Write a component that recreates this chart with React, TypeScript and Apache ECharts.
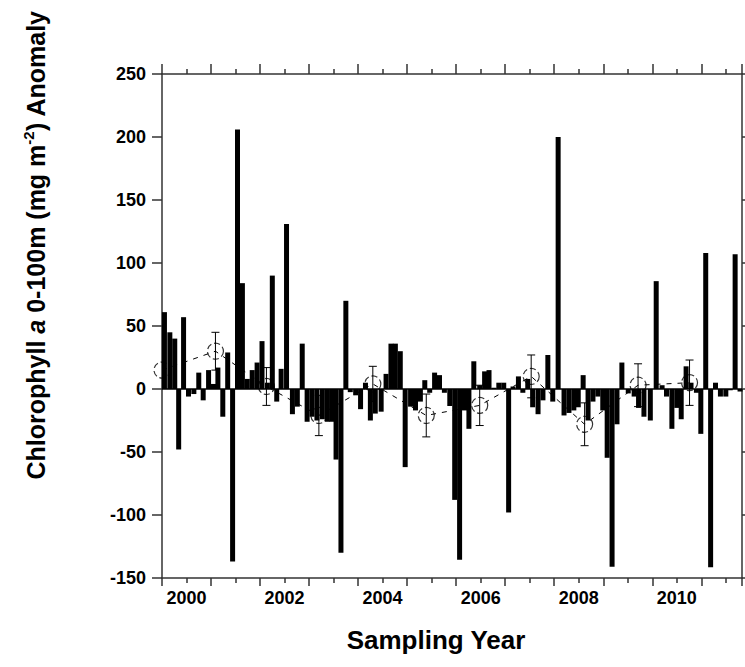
import React, { useEffect, useRef } from "react";
import * as echarts from "echarts";

// Monthly cruise anomalies (decimal year, mg m-2)
const barDates = [
  2000.05, 2000.16, 2000.26, 2000.34, 2000.44, 2000.54, 2000.65, 2000.75, 2000.84, 2000.95,
  2001.05, 2001.14, 2001.24, 2001.34, 2001.44, 2001.54, 2001.64, 2001.74, 2001.84, 2001.94,
  2002.04, 2002.15, 2002.25, 2002.34, 2002.43, 2002.54, 2002.66, 2002.76, 2002.86, 2002.96,
  2003.06, 2003.16, 2003.27, 2003.37, 2003.46, 2003.55, 2003.65, 2003.75, 2003.84, 2003.95,
  2004.05, 2004.15, 2004.25, 2004.35, 2004.47, 2004.57, 2004.67, 2004.76, 2004.86, 2004.96,
  2005.07, 2005.17, 2005.27, 2005.36, 2005.46, 2005.56, 2005.66, 2005.76, 2005.87, 2005.97,
  2006.07, 2006.17, 2006.26, 2006.36, 2006.48, 2006.58, 2006.67, 2006.77, 2006.87, 2006.97,
  2007.07, 2007.16, 2007.27, 2007.36, 2007.46, 2007.56, 2007.67, 2007.77, 2007.87, 2007.97,
  2008.08, 2008.2, 2008.3, 2008.4, 2008.49, 2008.59, 2008.69, 2008.79, 2008.89, 2008.99,
  2009.08, 2009.18, 2009.28, 2009.38, 2009.51, 2009.63, 2009.72, 2009.83, 2009.96, 2010.08,
  2010.2, 2010.29, 2010.4, 2010.5, 2010.59, 2010.69, 2010.79, 2010.9, 2010.99, 2011.09,
  2011.19, 2011.29, 2011.39, 2011.5, 2011.59, 2011.69, 2011.79,
];
const barValues = [
  61, 45, 40, -48, 57, -6, -4, 13, -9, 15,
  4, 17, -22, 29, -137, 206, 84, 8, 15, 21,
  38, 5, 90, -10, 16, 131, -20, -14, 36, -26,
  -22, -25, -24, -26, -26, -56, -130, 70, -2.5, -5,
  -16, 5, -25, -19.5, -18, 12, 36, 36, 30, -62,
  -14, -17, -10, 7, -3, 13, 11, -3, -13.5, -88,
  -135.6, -17, -31.6, 22, 3, 14, 15, 1, 5, 5,
  -98, 2, 10, -3, 8, -14.5, -20, -9, 27, -10,
  200, -21, -19, -17, -14.5, 11, -25, -10, -6, -17,
  -54.6, -141, -28, 21, -3.5, -6, -15, -22, -25, 85.6,
  3, -6, -31.6, -15, -24, 18, 5, -3, -35.6, 108,
  -141.5, 5, -6, -6, -1, 107, -2,
];

// Annual means with error bars
const meanDates = [2000.0, 2001.09, 2002.13, 2003.2, 2004.3, 2005.39, 2006.48, 2007.53, 2008.62, 2009.71, 2010.76];
const meanValues = [15, 30, 2, -21, 4, -21, -13, 10, -28, 3, 5];
const meanErrors = [0, 15, 15, 16, 14, 17, 16, 17, 17, 17, 18];

const yearLabels = [2000, 2002, 2004, 2006, 2008, 2010];
const yMin = -150;
const yMax = 250;
const yStep = 50;
const xMin = 2000;
const xMax = 2011.83;

const FONT = "'Liberation Sans', Arial, Helvetica, sans-serif";
const AXIS_COLOR = "#333";

export default function App() {
  const ref = useRef<HTMLDivElement>(null);

  useEffect(() => {
    if (!ref.current) return;
    const chart = echarts.init(ref.current, undefined, { renderer: "svg" });

    const barData = barDates.map((d, i) => [d, barValues[i]]);
    const meanData = meanDates.map((d, i) => [d, meanValues[i]]);
    const errData = meanDates
      .map((d, i) => [d, meanValues[i], meanErrors[i]])
      .filter((r) => r[2] > 0);

    const axisLineStyle = { color: AXIS_COLOR, width: 1.5 };

    const option: any = {
      animation: false,
      backgroundColor: "#fff",
      grid: { left: 162, top: 74, width: 581, height: 504, containLabel: false },
      xAxis: [
        {
          type: "value",
          position: "bottom",
          min: xMin,
          max: xMax,
          interval: 1,
          axisLine: { show: true, onZero: false, lineStyle: axisLineStyle },
          axisTick: { show: true, inside: false, length: 8, lineStyle: axisLineStyle },
          minorTick: { show: true, splitNumber: 2, length: 5, lineStyle: axisLineStyle },
          splitLine: { show: false },
          minorSplitLine: { show: false },
          axisLabel: {
            margin: 11,
            color: "#000",
            fontFamily: FONT,
            fontSize: 18,
            fontWeight: "bold",
            formatter: (v: number) =>
              yearLabels.indexOf(Math.round(v)) >= 0 && Math.abs(v - Math.round(v)) < 1e-6
                ? `{a|${Math.round(v)}}`
                : "",
            rich: {
              a: {
                padding: [0, 0, 0, 49],
                fontFamily: FONT,
                fontSize: 18,
                fontWeight: "bold",
                color: "#000",
              },
            },
          },
        },
        {
          type: "value",
          position: "top",
          min: xMin,
          max: xMax,
          interval: 1,
          axisLine: { show: true, onZero: false, lineStyle: axisLineStyle },
          axisTick: { show: true, inside: false, length: 10, lineStyle: axisLineStyle },
          minorTick: { show: true, splitNumber: 2, length: 5, lineStyle: axisLineStyle },
          splitLine: { show: false },
          axisLabel: { show: false },
        },
      ],
      yAxis: [
        {
          type: "value",
          position: "left",
          min: yMin,
          max: yMax,
          interval: yStep,
          axisLine: { show: true, onZero: false, lineStyle: axisLineStyle },
          axisTick: { show: true, inside: false, length: 10, lineStyle: axisLineStyle },
          splitLine: { show: false },
          axisLabel: {
            margin: 16,
            color: "#000",
            fontFamily: FONT,
            fontSize: 18,
            fontWeight: "bold",
          },
        },
        {
          type: "value",
          position: "right",
          min: yMin,
          max: yMax,
          interval: yStep,
          axisLine: { show: true, onZero: false, lineStyle: axisLineStyle },
          axisTick: { show: true, inside: false, length: 6, lineStyle: axisLineStyle },
          splitLine: { show: false },
          axisLabel: { show: false },
        },
      ],
      series: [
        {
          type: "line",
          name: "zero",
          data: [
            [xMin, 0],
            [xMax, 0],
          ],
          symbol: "none",
          silent: true,
          lineStyle: { color: "#000", width: 1.5 },
          z: 1,
        },
        {
          type: "custom",
          name: "anomaly",
          data: barData,
          z: 2,
          renderItem: (params: any, api: any) => {
            const x = api.value(0);
            const v = api.value(1);
            const p0 = api.coord([x, 0]);
            const p1 = api.coord([x, v]);
            const w = 5;
            return {
              type: "rect",
              shape: {
                x: p0[0] - w / 2,
                y: Math.min(p0[1], p1[1]),
                width: w,
                height: Math.abs(p1[1] - p0[1]),
              },
              style: { fill: "#000" },
            };
          },
        },
        {
          type: "line",
          name: "annual mean",
          data: meanData,
          symbol: "none",
          lineStyle: { color: "#000", width: 1, type: [5, 6] },
          z: 3,
        },
        {
          type: "custom",
          name: "error",
          data: errData,
          z: 4,
          renderItem: (params: any, api: any) => {
            const x = api.value(0);
            const m = api.value(1);
            const e = api.value(2);
            const top = api.coord([x, m + e]);
            const bot = api.coord([x, m - e]);
            const hw = 4;
            const st = { stroke: "#000", lineWidth: 1 };
            return {
              type: "group",
              children: [
                { type: "line", shape: { x1: top[0], y1: top[1], x2: bot[0], y2: bot[1] }, style: st },
                { type: "line", shape: { x1: top[0] - hw, y1: top[1], x2: top[0] + hw, y2: top[1] }, style: st },
                { type: "line", shape: { x1: bot[0] - hw, y1: bot[1], x2: bot[0] + hw, y2: bot[1] }, style: st },
              ],
            };
          },
        },
        {
          type: "scatter",
          name: "circles",
          data: meanData,
          symbol: "circle",
          symbolSize: 16,
          clip: false,
          itemStyle: {
            color: "rgba(255,255,255,0)",
            borderColor: "#000",
            borderWidth: 1.2,
            borderType: [6, 3],
          },
          z: 5,
        },
      ],
      graphic: [
        {
          type: "text",
          x: 36,
          y: 245,
          rotation: Math.PI / 2,
          style: {
            text: "{b|Chlorophyll }{i|a}{b| 0-100m (mg m}{s|-2}{b|) Anomaly}",
            align: "center",
            verticalAlign: "middle",
            fill: "#000",
            rich: {
              b: { fontFamily: FONT, fontSize: 25, fontWeight: "bold", fill: "#000", lineHeight: 30 },
              i: { fontFamily: FONT, fontSize: 25, fontWeight: "bold", fontStyle: "italic", fill: "#000", lineHeight: 30 },
              s: { fontFamily: FONT, fontSize: 15, fontWeight: "bold", fill: "#000", verticalAlign: "top", lineHeight: 30 },
            },
          },
        },
        {
          type: "text",
          x: 436,
          y: 640,
          style: {
            text: "Sampling Year",
            align: "center",
            verticalAlign: "middle",
            fontFamily: FONT,
            fontSize: 26,
            fontWeight: "bold",
            fill: "#000",
          },
        },
      ],
    };

    chart.setOption(option);
    return () => chart.dispose();
  }, []);

  return (
    <div
      ref={ref}
      style={{ position: "fixed", left: 0, top: 0, width: 745, height: 667, background: "#fff" }}
    />
  );
}
